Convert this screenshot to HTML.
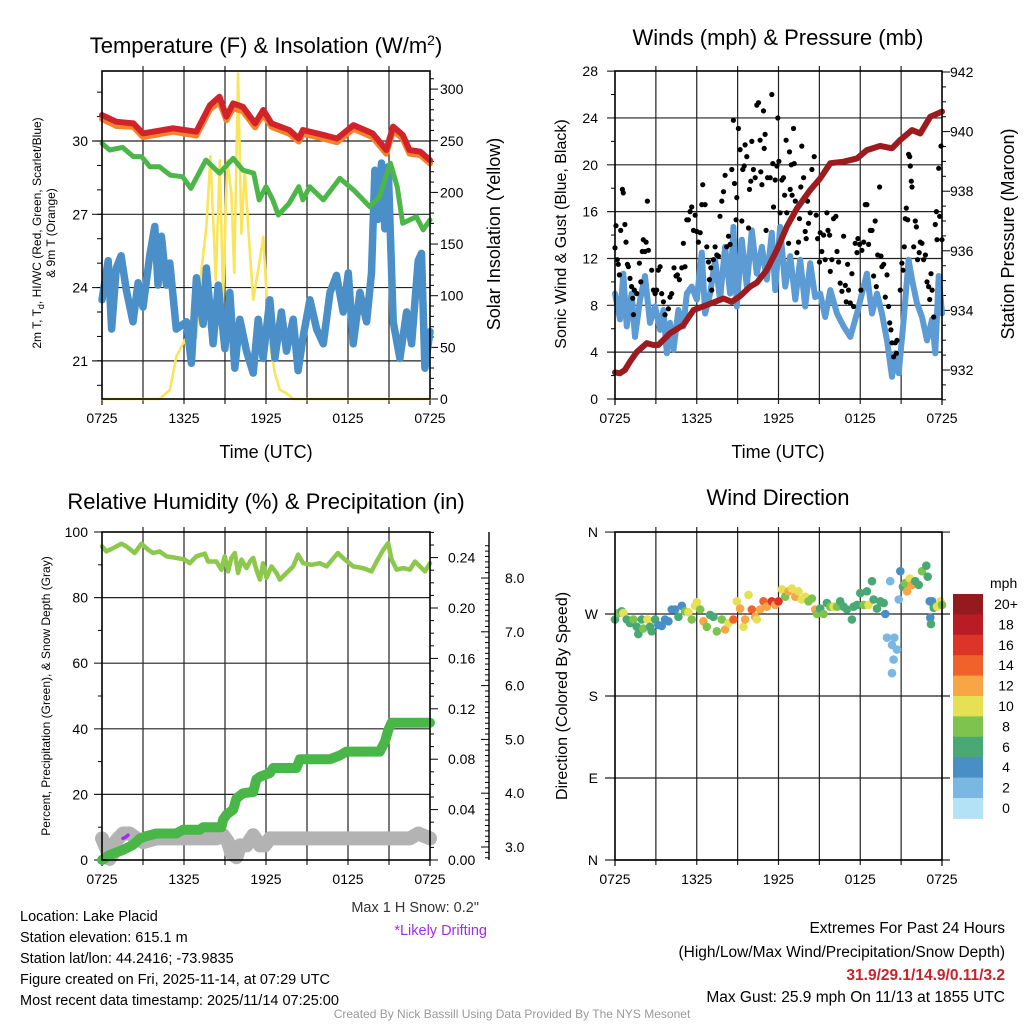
<!DOCTYPE html>
<html><head><meta charset="utf-8"><style>
html,body{margin:0;padding:0;background:#fff}
svg{display:block;font-family:"Liberation Sans",sans-serif}
</style></head><body>
<svg id="c" width="1024" height="1024" viewBox="0 0 1024 1024" xmlns="http://www.w3.org/2000/svg"></svg>
<script>
// ---------- DATA ----------
const xTickLabels = ["0725","1325","1925","0125","0725"];
// Panel 1
const t2mHours = [0,1.05,2.3,3,5.2,6.9,7.9,8.6,9.1,9.6,10.3,11.2,11.8,12.4,13.7,14.4,14.7,16.2,17.2,18.4,19.8,20.8,21.3,22,22.5,23.3,24];
const t2mVals  = [31.06,30.79,30.72,30.31,30.52,30.38,31.47,31.81,31.0,31.54,31.4,30.72,31.27,30.72,30.45,30.1,30.45,30.25,30.1,30.65,30.31,29.63,30.59,30.25,29.63,29.56,29.22];
const t9mVals  = [30.9,30.62,30.58,30.16,30.38,30.22,31.3,31.6,30.85,31.35,31.22,30.56,31.1,30.58,30.3,29.98,30.3,30.1,29.95,30.5,30.15,29.48,30.42,30.1,29.48,29.42,29.08];
const tdHours = [0,0.56,1.5,2.3,2.9,3.5,4.2,5,5.9,6.5,7.6,8.1,8.6,9.6,10.3,11.1,11.5,12,12.5,12.9,13.7,14.4,14.7,15.2,16.2,17.4,18.4,19.6,20.3,21.1,21.6,22,23,23.5,24];
const tdVals  = [29.9,29.63,29.74,29.36,29.36,28.95,28.95,28.6,28.54,28.06,29.22,28.95,28.68,29.29,28.81,28.68,27.59,28.13,27.59,26.97,27.45,28.13,27.59,28.13,27.59,28.47,28.0,27.31,27.72,29.09,28.13,26.63,26.9,26.36,26.77];
const wcHours = [0,0.45,0.7,1.05,1.4,1.78,2.27,2.64,3.0,3.49,3.86,4.1,4.35,4.71,4.96,5.44,6.18,6.54,6.91,7.4,7.64,8.13,8.5,8.99,9.35,9.72,10.08,10.57,11.06,11.43,11.79,12.28,12.65,13.13,13.5,13.99,14.35,14.72,15.21,15.7,16.19,16.68,17.16,17.65,18.02,18.38,18.87,19.36,19.72,19.97,20.21,20.45,20.7,20.94,21.31,21.8,22.29,22.65,23.14,23.38,23.63,24];
const wcVals  = [23.5,25.1,22.3,24.8,25.3,23.9,22.6,24.2,23.2,25.3,26.5,24.1,26.1,24.1,25.0,22.3,22.6,20.9,24.4,22.5,24.8,21.7,24.1,21.5,23.8,20.7,22.7,21.4,20.5,22.7,21.1,23.5,21.1,23.0,21.4,22.7,20.6,22.0,23.5,22.3,21.7,23.8,24.5,23.0,24.6,21.7,23.8,22.6,24.6,28.8,26.8,29.1,26.4,28.95,22.6,21.1,23.0,21.7,25.1,25.4,20.7,22.2];
const solHours = [0,4.22,4.96,5.44,6.18,6.54,6.91,7.28,7.64,7.93,8.33,8.62,8.86,9.16,9.47,9.67,9.96,10.2,10.45,10.69,11.06,11.55,11.8,12.04,12.28,12.65,13.01,13.5,14,24];
const solVals  = [0,0,8.7,41,60,76,59,125,167,235,115,231,96,231,199,122,315,160,222,167,96,135,157,102,54,25,9,5.5,0,0];
// Panel 2
const windHours = [0,0.37,0.61,0.86,1.22,1.47,1.84,2.2,2.57,2.94,3.31,3.55,3.8,4.04,4.29,4.65,5.02,5.27,5.63,6.0,6.37,6.61,6.98,7.35,7.71,8.08,8.45,8.69,8.94,9.31,9.67,10.04,10.41,10.78,11.14,11.51,11.76,12.12,12.49,12.86,13.23,13.59,13.96,14.33,14.69,15.06,15.43,15.8,16.29,16.78,17.27,17.76,18.12,18.49,18.86,19.23,19.59,19.96,20.33,20.57,20.82,21.19,21.55,21.8,22.16,22.53,22.9,23.27,23.51,23.76,24];
const windVals  = [9.0,6.8,10.7,6.2,9.0,5.3,8.5,10.5,6.5,7.9,5.9,7.6,3.9,6.5,4.2,7.6,6.2,9.0,9.6,8.5,12.5,7.3,9.0,11.9,8.5,13.0,9.0,14.7,7.9,13.6,9.6,14.4,10.7,13.0,10.2,14.2,9.3,14.7,9.6,12.2,8.5,11.9,7.9,11.6,8.7,9.0,7.0,9.3,7.3,6.2,5.3,7.3,9.0,10.7,7.3,9.0,7.3,5.0,1.9,3.9,2.2,6.8,11.9,10.2,8.2,7.0,5.0,6.8,3.9,10.5,7.3];
const presHours = [0,0.37,0.73,1.1,1.59,2.33,2.82,3.18,4.04,5.02,5.76,6.74,7.96,8.57,9.18,9.92,10.41,11.14,11.88,12.61,13.35,14.33,15.06,15.8,16.78,17.76,18.49,19.47,20.33,20.94,21.8,22.41,23.14,24];
const presVals  = [931.92,931.89,932.0,932.28,932.6,932.9,932.84,932.84,933.23,933.51,934.01,934.18,934.4,934.29,934.48,934.8,934.93,935.36,936.03,936.81,937.42,938.04,938.43,938.94,938.99,939.1,939.38,939.52,939.44,939.72,940.05,939.94,940.5,940.67];
const gustHours = [0,0.07,0.17,0.24,0.32,0.42,0.54,0.61,0.73,0.81,0.91,0.98,1.1,1.22,1.3,1.35,1.42,1.6,1.79,1.89,2.0,2.08,2.2,2.28,2.38,2.45,2.69,2.82,2.94,3.06,3.18,3.31,3.43,3.55,3.67,3.92,4.04,4.16,4.33,4.48,4.58,4.73,4.9,5.02,5.14,5.27,5.39,5.51,5.63,5.76,5.88,6.0,6.12,6.25,6.37,6.44,6.61,6.74,6.86,6.93,7.03,7.1,7.22,7.35,7.47,7.59,7.71,7.84,7.96,8.08,8.2,8.33,8.45,8.57,8.69,8.77,8.89,8.94,9.06,9.18,9.31,9.38,9.48,9.55,9.67,9.8,9.87,9.97,10.04,10.16,10.29,10.41,10.53,10.65,10.7,10.78,10.9,10.95,11.02,11.09,11.19,11.39,11.51,11.58,11.63,11.76,11.88,11.95,12.03,12.12,12.25,12.37,12.45,12.56,12.61,12.74,12.81,12.86,12.93,13.0,13.1,13.15,13.23,13.35,13.47,13.54,13.64,13.71,13.84,13.96,14.03,14.13,14.2,14.33,14.45,14.62,14.77,14.87,15.01,15.06,15.18,15.31,15.43,15.55,15.63,15.75,15.8,15.92,16.04,16.21,16.29,16.41,16.53,16.65,16.78,16.9,16.97,17.07,17.14,17.27,17.39,17.51,17.63,17.76,17.83,17.95,18.05,18.12,18.25,18.37,18.49,18.61,18.74,18.86,18.98,19.1,19.18,19.28,19.42,19.52,19.59,19.72,19.84,19.96,20.08,20.16,20.25,20.33,20.45,20.57,20.65,20.7,20.94,21.06,21.14,21.23,21.31,21.38,21.48,21.55,21.63,21.67,21.75,21.8,21.92,22.04,22.12,22.21,22.33,22.41,22.53,22.65,22.78,22.9,23.02,23.1,23.19,23.27,23.39,23.51,23.59,23.63,23.76,23.83,23.93,24.0];
const gustVals  = [12.9,14.8,11.9,11.5,10.6,14.4,17.9,17.6,14.9,13.4,11.5,11.3,10.3,9.6,8.6,7.2,9.3,9.0,11.6,10.0,12.6,13.6,12.6,13.4,16.9,12.7,11.0,9.3,9.0,9.3,11.0,11.3,9.0,8.3,7.2,7.7,8.7,9.0,11.2,10.5,10.6,10.2,11.2,13.3,11.3,15.3,15.3,16.0,16.4,14.4,15.7,14.3,13.4,14.2,16.6,18.3,16.6,13.0,11.7,10.2,11.2,9.3,11.9,13.0,12.3,12.2,15.6,16.9,17.7,19.1,13.0,13.9,13.2,19.6,23.8,18.4,15.3,17.2,23.1,21.3,15.2,19.6,19.9,21.7,20.7,14.6,17.9,18.6,22.0,19.6,18.9,25.1,25.3,22.1,19.4,18.3,24.6,21.4,22.6,14.4,18.9,18.9,26.0,20.1,16.4,18.7,19.9,24.0,20.3,15.9,18.7,18.9,17.4,22.1,15.9,13.3,21.1,17.9,20.0,17.4,23.1,20.1,16.9,12.5,13.4,15.4,18.1,21.6,18.9,14.3,13.7,16.9,15.0,15.9,19.6,20.7,15.7,13.7,11.7,14.2,12.6,14.0,11.9,15.9,14.4,14.0,10.9,11.9,15.4,15.6,12.6,11.7,9.9,9.2,13.9,9.7,8.3,11.5,9.3,8.2,10.7,7.9,13.3,12.5,13.7,13.2,9.3,12.7,13.4,16.6,16.6,13.2,14.4,14.4,10.5,15.2,9.6,12.3,18.1,12.2,11.3,11.5,8.7,10.6,7.9,6.5,5.9,4.8,3.6,4.8,3.9,5.0,9.3,11.6,11.0,13.0,15.4,16.3,15.3,20.9,20.7,19.9,18.6,18.1,13.0,15.2,14.7,11.9,12.5,13.4,13.3,11.9,12.3,10.0,9.6,8.5,10.7,9.3,7.0,14.9,16.0,13.6,19.7,15.6,21.6,13.6];
// Panel 3
const rhHours = [0,0.32,0.81,1.42,1.78,2.39,2.88,3.37,3.74,4.22,4.71,5.44,6.05,6.42,6.91,7.52,7.76,8.37,8.74,8.98,9.23,9.47,9.72,9.96,10.21,10.57,10.82,11.06,11.3,11.55,11.79,12.04,12.4,12.77,13.01,13.5,13.99,14.35,14.72,15.33,15.94,16.43,17.26,17.63,18.38,19.11,19.72,20.09,20.58,20.94,21.19,21.56,22.05,22.53,22.9,23.27,23.63,24];
const rhVals  = [95.6,94.1,95.1,96.4,95.6,93.6,96.4,94.6,93.6,94.1,92.6,92.1,91.6,90.5,92.6,93.4,91.0,91.0,88.5,92.6,88.0,92.1,93.6,87.5,91.6,89.0,91.0,92.1,88.5,85.5,90.5,86.0,89.5,87.5,85.5,87.5,89.5,93.1,90.5,90.0,90.5,89.5,93.6,92.1,89.5,89.0,88.0,91.0,94.6,96.6,91.6,88.5,89.0,88.5,91.0,89.5,88.0,90.5];
const precipHours = [0,0.56,1.54,2.27,2.76,3.25,3.98,5.44,5.93,7.15,7.4,8.74,8.86,9.11,9.6,9.84,10.33,11.06,11.3,11.55,12.28,12.53,14.23,14.48,16.68,17.41,17.89,20.33,20.7,20.94,21.19,24];
const precipVals  = [0,0.004,0.008,0.012,0.017,0.019,0.021,0.021,0.024,0.024,0.026,0.026,0.032,0.036,0.04,0.049,0.053,0.054,0.064,0.066,0.069,0.073,0.073,0.08,0.08,0.083,0.086,0.086,0.094,0.103,0.109,0.109];
const snowHours = [0,0.32,0.56,0.81,1.05,1.54,2.03,2.51,3.0,3.98,6.42,8.37,8.86,9.23,9.47,9.84,10.08,10.57,11.06,11.55,11.91,12.28,16.19,21.07,22.53,23.14,24];
const snowVals  = [3.16,2.97,2.78,2.88,3.12,3.25,3.25,3.16,3.09,3.16,3.16,3.16,3.22,3.09,2.88,2.81,3.03,3.03,3.22,3.03,3.03,3.16,3.16,3.16,3.16,3.25,3.16];
const driftHours = [1.54,1.72,1.9];
const driftVals  = [3.16,3.18,3.22];
// Panel 4
const dirHours = [0,0.24,0.49,0.61,0.86,1.1,1.35,1.59,1.71,1.96,2.08,2.38,2.57,2.69,2.94,3.18,3.43,3.67,3.92,4.16,4.41,4.65,4.9,5.14,5.39,5.63,5.88,6.0,6.25,6.49,6.74,6.98,7.22,7.47,7.84,8.08,8.33,8.69,8.94,9.18,9.43,9.55,9.8,10.04,10.29,10.41,10.65,10.9,11.14,11.51,11.76,12.0,12.25,12.49,12.74,12.98,13.23,13.47,13.71,13.96,14.2,14.45,14.69,14.82,15.06,15.31,15.55,15.8,16.04,16.29,16.53,16.78,17.02,17.39,17.51,17.76,18.0,18.25,18.49,18.61,18.86,18.98,19.23,19.47,19.72,19.84,19.96,20.2,20.33,20.5,20.33,20.45,20.7,20.82,20.94,21.14,21.31,21.43,21.63,21.8,22.04,22.29,22.53,22.85,22.95,23.1,23.14,23.19,23.27,23.39,23.63,23.88,24];
const dirVals  = [264,271,273,271,264,260,264,256,248,264,254,264,256,251,264,258,257,264,262,275,275,267,279,273,272,264,279,283,275,262,256,269,267,251,264,253,260,264,284,276,256,264,291,275,267,264,275,284,278,284,280,284,297,289,295,298,289,295,286,289,284,287,275,270,276,270,282,278,278,278,284,278,275,264,278,280,293,280,295,280,306,286,276,284,282,270,244,306,236,244,205,220,231,286,317,300,304,295,309,302,306,302,317,323,311,284,266,259,284,277,278,284,280];
const dirSpd   = [7,8,6,10,6,6,8,6,6,7,8,10,7,6,7,5,4,5,5,4,4,7,5,8,10,8,10,10,8,12,8,6,7,8,9,12,11,14,10,12,10,12,10,15,12,10,12,15,12,16,13,16,10,9,12,10,12,10,10,10,9,8,12,8,7,8,7,8,10,9,7,6,6,6,7,7,6,9,7,10,7,6,7,6,7,4,2,2,2,2,2,2,2,2,4,6,8,12,10,12,6,6,8,6,6,4,4,6,4,6,10,10,8];
const speedBins = ["0","2","4","6","8","10","12","14","16","18","20+"];
const speedColors = ["#b3e2f7","#7ab8e3","#4a8ec6","#4aa874","#7dc34d","#e6e055","#f7a545","#f06229","#dd3428","#b91c25","#951a1d"];

// ---------- HELPERS ----------
const NS="http://www.w3.org/2000/svg";
const svg=document.getElementById('c');
function mk(tag,attrs,parent,name,inter){
  const e=document.createElementNS(NS,tag);
  for(const k in attrs)e.setAttribute(k,attrs[k]);
  
  
  (parent||svg).appendChild(e);return e;
}
function txt(s,x,y,opt,name,parent){
  const a=Object.assign({x:x,y:y,'font-size':14,fill:'#000'},opt||{});
  const e=mk('text',a,parent,name,false);e.textContent=s;return e;
}
function line(x1,y1,x2,y2,st,w,parent,name){
  return mk('line',{x1:x1,y1:y1,x2:x2,y2:y2,stroke:st||'#000','stroke-width':w||1},parent,name,false);
}
function path(hs,vs,fx,fy,st,w,parent,name){
  let d='';for(let i=0;i<hs.length;i++)d+=(i?'L':'M')+fx(hs[i]).toFixed(1)+' '+fy(vs[i]).toFixed(1);
  return mk('path',{d:d,fill:'none',stroke:st,'stroke-width':w,'stroke-linejoin':'round','stroke-linecap':'round'},parent,name,false);
}
function frame(L,T,R,B,name){
  const g=mk('g',{},svg,name,false);
  for(let i=0;i<=8;i++){const x=L+(R-L)*i/8;
    if(i>0&&i<8)line(x,T-5,x,B+5,'#222',1.2,g,'x-grid-line');
    else line(x,B,x,B+6,'#000',1.2,g,'x-tick');
  }
  for(let i=0;i<5;i++)txt(xTickLabels[i],L+(R-L)*i/4,B+24,{'text-anchor':'middle','font-size':14},'x-tick-label',g);
  return g;
}
function border(L,T,R,B,g){mk('rect',{x:L,y:T,width:R-L,height:B-T,fill:'none',stroke:'#000','stroke-width':1.6},g,'plot-border',false);}

// ---------- PANEL 1 ----------
{
 const L=102,R=430,T=71,B=399;
 const X=h=>L+h*(R-L)/24, YT=v=>141+(30-v)*24.43, YS=v=>399-v*1.033;
 const g=frame(L,T,R,B,'temperature-panel');
 [21,24,27,30].forEach(v=>{line(L-10,YT(v),R,YT(v),'#222',1.2,g,'y-grid-line');txt(String(v),88,YT(v)+5,{'text-anchor':'end'},'y-tick-label',g);});
 for(let v=20;v<=32;v++)line(L-5,YT(v),L,YT(v),'#000',1,g,'y-minor-tick');
 for(let v=0;v<=310;v+=10){const big=v%50===0;line(R,YS(v),R+(big?8:4),YS(v),'#000',1,g,'right-tick');
   if(big)txt(String(v),440,YS(v)+5,{},'right-tick-label',g);}
 path(solHours,solVals,X,YS,'#fae55a',2.6,g,'insolation-line');
 path(wcHours,wcVals,X,YT,'#4a8fc7',7.5,g,'wind-chill-line');
 path(tdHours,tdVals,X,YT,'#4cb748',5,g,'dewpoint-line');
 path(t2mHours,t9mVals,X,YT,'#f5832a',6,g,'9m-temp-line');
 path(t2mHours,t2mVals,X,YT,'#d2232a',6,g,'2m-temp-line');
 border(L,T,R,B,g);
 const t=txt('',266,53,{'text-anchor':'middle','font-size':22},'panel-title',g);
 t.innerHTML='Temperature (F) &amp; Insolation (W/m<tspan dy="-8" font-size="14">2</tspan><tspan dy="8">)</tspan>';
 txt('Time (UTC)',266,458,{'text-anchor':'middle','font-size':18},'x-axis-title',g);
 const yt=txt('',0,0,{'text-anchor':'middle','font-size':12,transform:'translate(41,233) rotate(-90)'},'y-axis-title',g);
 yt.innerHTML='2m T, T<tspan dy="3" font-size="9">d</tspan><tspan dy="-3">, HI/WC (Red, Green, Scarlet/Blue)</tspan>';
 txt('& 9m T (Orange)',0,0,{'text-anchor':'middle','font-size':12,transform:'translate(55,233) rotate(-90)'},'y-axis-title-line2',g);
 txt('Solar Insolation (Yellow)',0,0,{'text-anchor':'middle','font-size':18,transform:'translate(500,234) rotate(-90)'},'right-axis-title',g);
}
// ---------- PANEL 2 ----------
{
 const L=615,R=942,T=71,B=399;
 const X=h=>L+h*(R-L)/24, YW=v=>399-v*11.71, YP=v=>370-(v-932)*29.8;
 const g=frame(L,T,R,B,'winds-panel');
 for(let v=0;v<=28;v+=4){if(v>0&&v<28)line(L-8,YW(v),R,YW(v),'#222',1.2,g,'y-grid-line');else line(L-8,YW(v),L,YW(v),'#000',1,g,'y-tick');
   txt(String(v),598,YW(v)+5,{'text-anchor':'end'},'y-tick-label',g);}
 for(let v=2;v<28;v+=4)line(L-4,YW(v),L,YW(v),'#000',1,g,'y-minor-tick');
 for(let v=931;v<=942.4;v+=0.5){const big=Math.abs(v%2)<0.01;line(R,YP(v),R+(big?8:4),YP(v),'#000',1,g,'right-tick');
   if(big)txt(String(v),950,YP(v)+5,{},'right-tick-label',g);}
 path(windHours,windVals,X,YW,'#5c9bd3',6,g,'sonic-wind-line');
 for(let i=0;i<gustHours.length;i++)mk('circle',{cx:X(gustHours[i]).toFixed(1),cy:YW(gustVals[i]).toFixed(1),r:2.6,fill:'#000'},g,'gust-point',false);
 path(presHours,presVals,X,YP,'#9c1b1f',6,g,'pressure-line');
 border(L,T,R,B,g);
 txt('Winds (mph) & Pressure (mb)',778,45,{'text-anchor':'middle','font-size':22},'panel-title',g);
 txt('Time (UTC)',778,458,{'text-anchor':'middle','font-size':18},'x-axis-title',g);
 txt('Sonic Wind & Gust (Blue, Black)',0,0,{'text-anchor':'middle','font-size':16,transform:'translate(566,234) rotate(-90)'},'y-axis-title',g);
 txt('Station Pressure (Maroon)',0,0,{'text-anchor':'middle','font-size':18,transform:'translate(1014,234) rotate(-90)'},'right-axis-title',g);
}
// ---------- PANEL 3 ----------
{
 const L=102,R=430,T=532,B=860;
 const X=h=>L+h*(R-L)/24, YR=v=>860-v*3.28, YPr=v=>860-v*1260, YSn=v=>847-(v-3)*53.8;
 const g=frame(L,T,R,B,'humidity-panel');
 for(let v=0;v<=100;v+=20){if(v>0&&v<100)line(L-8,YR(v),R,YR(v),'#222',1.2,g,'y-grid-line');else line(L-8,YR(v),L,YR(v),'#000',1,g,'y-tick');
   txt(String(v),88,YR(v)+5,{'text-anchor':'end'},'y-tick-label',g);}
 for(let v=10;v<100;v+=20)line(L-4,YR(v),L,YR(v),'#000',1,g,'y-minor-tick');
 for(let k=0;k<=26;k++){const v=k*0.01,big=k%4===0;line(R,YPr(v),R+(big?8:4),YPr(v),'#000',1,g,'precip-tick');
   if(big)txt(v.toFixed(2),448,YPr(v)+5,{},'precip-tick-label',g);}
 line(489,532,489,860,'#000',1.4,g,'snow-axis-line');
 for(let k=28;k<=86;k++){const v=k/10;const big=k%10===0;if(YSn(v)<532||YSn(v)>860)continue;line(489-(big?8:4),YSn(v),489,YSn(v),'#000',1,g,'snow-tick');
   if(big)txt(v.toFixed(1),505,YSn(v)+5,{},'snow-tick-label',g);}
 const cg=mk('clipPath',{id:'cp3'},g,'panel3-clip',false);mk('rect',{x:L-10,y:T,width:R-L+20,height:B-T+12},cg,'clip-rect',false);
 const pg=mk('g',{'clip-path':'url(#cp3)'},g,'panel3-series',false);
 path(snowHours,snowVals,X,YSn,'#b3b3b3',14,pg,'snow-depth-line');
 path(driftHours,driftVals,X,YSn,'#a02cf0',3.5,pg,'drifting-marker');
 path(precipHours,precipVals,X,YPr,'#49b648',10,pg,'precipitation-line');
 path(rhHours,rhVals,X,YR,'#8cc84b',4.5,pg,'humidity-line');
 border(L,T,R,B,g);
 txt('Relative Humidity (%) & Precipitation (in)',266,509,{'text-anchor':'middle','font-size':22},'panel-title',g);
 txt('Percent, Precipitation (Green), & Snow Depth (Gray)',0,0,{'text-anchor':'middle','font-size':12,transform:'translate(50,696) rotate(-90)'},'y-axis-title',g);
}
// ---------- PANEL 4 ----------
{
 const L=615,R=942,T=532,B=860;
 const X=h=>L+h*(R-L)/24, YD=d=>860-d*0.911;
 const g=frame(L,T,R,B,'wind-direction-panel');
 const lab=['N','E','S','W','N'];
 for(let i=0;i<5;i++){const d=i*90;line(L-10,YD(d),R+8,YD(d),'#222',1.2,g,'y-grid-line');
   txt(lab[i],598,YD(d)+5,{'text-anchor':'end'},'y-tick-label',g);}
 for(let i=0;i<dirHours.length;i++){const b=Math.min(10,Math.floor(dirSpd[i]/2));
   mk('circle',{cx:X(dirHours[i]).toFixed(1),cy:YD(dirVals[i]).toFixed(1),r:4.3,fill:speedColors[b]},g,'direction-point',false);}
 border(L,T,R,B,g);
 txt('Wind Direction',778,505,{'text-anchor':'middle','font-size':22},'panel-title',g);
 txt('Direction (Colored By Speed)',0,0,{'text-anchor':'middle','font-size':16,transform:'translate(567,696) rotate(-90)'},'y-axis-title',g);
 const lg=mk('g',{},g,'speed-colorbar',false);
 txt('mph',990,588,{'font-size':14},'colorbar-title',lg);
 for(let i=0;i<11;i++){const k=10-i,y=594+i*20.4;
   mk('rect',{x:953,y:y.toFixed(1),width:30,height:20.9,fill:speedColors[k]},lg,'colorbar-cell',false);
   txt(speedBins[k],1006,y+15,{'text-anchor':'middle','font-size':14},'colorbar-label',lg);}
}
// ---------- TEXT ----------
{
 const g=mk('g',{},svg,'station-info',false);
 const lines=['Location: Lake Placid','Station elevation: 615.1 m','Station lat/lon: 44.2416; -73.9835','Figure created on Fri, 2025-11-14, at 07:29 UTC','Most recent data timestamp: 2025/11/14 07:25:00'];
 lines.forEach((s,i)=>txt(s,20,921+i*21,{'font-size':14.5},'info-line',g));
 txt('Max 1 H Snow: 0.2"',479,912,{'text-anchor':'end','font-size':14.5,fill:'#333'},'max-snow-note',g);
 txt('*Likely Drifting',487,935,{'text-anchor':'end','font-size':14.5,fill:'#a02cf0'},'drifting-note',g);
 const r=mk('g',{},svg,'extremes-info',false);
 txt('Extremes For Past 24 Hours',1005,933,{'text-anchor':'end','font-size':15.5},'extremes-title',r);
 txt('(High/Low/Max Wind/Precipitation/Snow Depth)',1005,957,{'text-anchor':'end','font-size':15.5},'extremes-subtitle',r);
 txt('31.9/29.1/14.9/0.11/3.2',1005,980,{'text-anchor':'end','font-size':15.5,'font-weight':'bold',fill:'#c8232c'},'extremes-values',r);
 txt('Max Gust: 25.9 mph On 11/13 at 1855 UTC',1005,1002,{'text-anchor':'end','font-size':15.5},'max-gust',r);
 txt('Created By Nick Bassill Using Data Provided By The NYS Mesonet',512,1018,{'text-anchor':'middle','font-size':12,fill:'#999'},'credit-footer',svg);
}
</script>
</body></html>
